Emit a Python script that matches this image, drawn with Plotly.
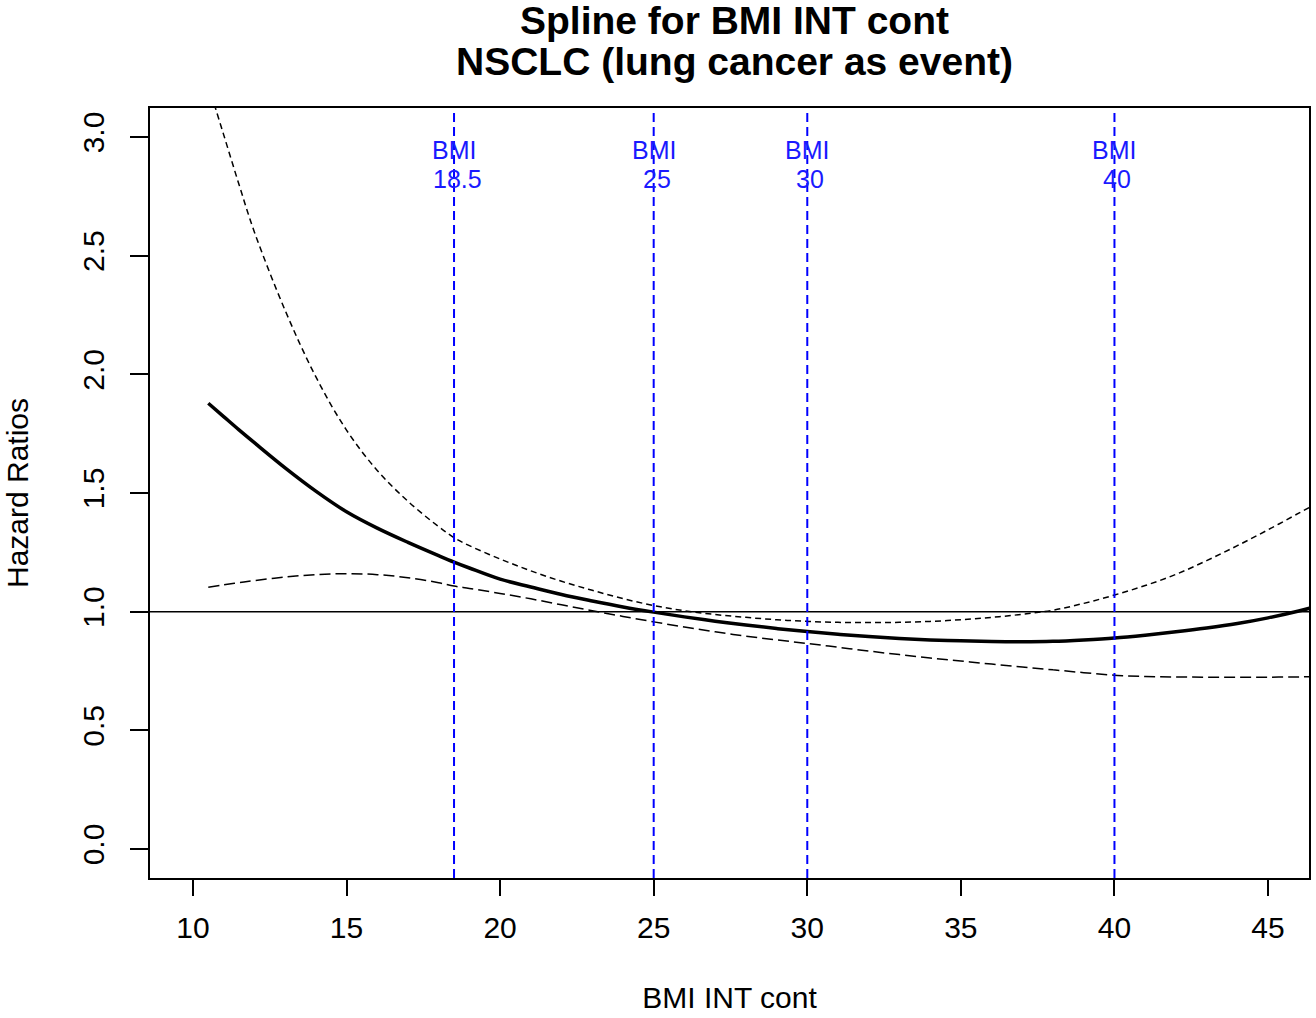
import plotly.graph_objects as go

# ---- data ----
bmi = [10.5, 11, 11.5, 12, 13, 14, 15, 16, 17, 18, 18.5, 19, 20, 21, 22, 23, 24, 25,
       26, 27, 28, 29, 30, 31, 32, 33, 34, 35, 36, 37, 38, 39, 40, 41, 42, 43, 44,
       45, 46, 46.5]
hr = [1.878, 1.822, 1.766, 1.712, 1.606, 1.508, 1.421, 1.352, 1.292, 1.236, 1.209,
      1.184, 1.137, 1.104, 1.072, 1.045, 1.020, 0.998, 0.978, 0.960, 0.944, 0.929,
      0.916, 0.905, 0.895, 0.887, 0.881, 0.877, 0.874, 0.873, 0.875, 0.881, 0.889,
      0.901, 0.915, 0.931, 0.950, 0.974, 1.003, 1.020]
hr_low = [1.103, 1.113, 1.122, 1.131, 1.146, 1.156, 1.160, 1.156, 1.143, 1.122,
          1.108, 1.098, 1.077, 1.054, 1.029, 1.004, 0.980, 0.957, 0.935, 0.915,
          0.897, 0.881, 0.866, 0.850, 0.834, 0.819, 0.805, 0.792, 0.779, 0.767,
          0.755, 0.743, 0.732, 0.727, 0.725, 0.724, 0.724, 0.724, 0.725, 0.726]
hr_up = [3.22, 3.01, 2.80, 2.60, 2.27, 1.99, 1.765, 1.595, 1.465, 1.358, 1.312,
         1.278, 1.222, 1.172, 1.128, 1.090, 1.055, 1.026, 1.004, 0.988, 0.976,
         0.966, 0.959, 0.955, 0.954, 0.955, 0.959, 0.966, 0.976, 0.989, 1.006,
         1.035, 1.070, 1.110, 1.157, 1.215, 1.278, 1.345, 1.415, 1.450]

ref_bmi = [18.5, 25, 30, 40]
ref_labels = ["18.5", "25", "30", "40"]
x_ticks = [10, 15, 20, 25, 30, 35, 40, 45]
y_ticks = [0.0, 0.5, 1.0, 1.5, 2.0, 2.5, 3.0]
y_tick_text = ["0.0", "0.5", "1.0", "1.5", "2.0", "2.5", "3.0"]
title_lines = ["Spline for BMI INT cont", "NSCLC (lung cancer as event)"]

X_RANGE = [8.6026, 46.333]
Y_RANGE = [-0.1222, 3.1222]

FONT = "Liberation Sans, Arial, sans-serif"

fig = go.Figure()

# reference line at HR = 1
fig.add_hline(y=1.0, line=dict(color="black", width=1.5))

# blue BMI reference lines
for v in ref_bmi:
    fig.add_vline(x=v, line=dict(color="#0000ff", width=2, dash="9px,5px"))

fig.add_trace(go.Scatter(x=bmi, y=hr_up, mode="lines", line_shape="spline",
                         line=dict(color="black", width=1.5, dash="6px,4px"),
                         showlegend=False, hoverinfo="skip"))
fig.add_trace(go.Scatter(x=bmi, y=hr_low, mode="lines", line_shape="spline",
                         line=dict(color="black", width=1.5, dash="11px,5px"),
                         showlegend=False, hoverinfo="skip"))
fig.add_trace(go.Scatter(x=bmi, y=hr, mode="lines", line_shape="spline",
                         line=dict(color="black", width=3.5),
                         showlegend=False, hoverinfo="skip"))

for v, lab in zip(ref_bmi, ref_labels):
    fig.add_annotation(x=v, y=2.945, text="BMI", showarrow=False,
                       font=dict(family=FONT, size=25, color="#1a1aff"),
                       xanchor="center", yanchor="middle")
    fig.add_annotation(x=v, y=2.823, text=lab, showarrow=False, xshift=3,
                       font=dict(family=FONT, size=25, color="#1a1aff"),
                       xanchor="center", yanchor="middle")

# two-line bold title
for i, line in enumerate(title_lines):
    fig.add_annotation(x=0.5, xref="paper", y=1, yref="paper",
                       yshift=88 - 41 * i, xshift=5,
                       text="<b>" + line + "</b>", showarrow=False,
                       xanchor="center", yanchor="middle",
                       font=dict(family=FONT, size=39, color="black"))

fig.update_layout(
    width=1316, height=1018,
    margin=dict(l=150, r=5, t=108, b=140),
    paper_bgcolor="white", plot_bgcolor="white",
    font=dict(family=FONT, color="black", size=30),
    showlegend=False,
)
fig.update_xaxes(range=X_RANGE, tickvals=x_ticks, ticks="outside", ticklen=16,
                 tickwidth=2, tickcolor="black", showline=True, linecolor="black",
                 linewidth=2, mirror=True, showgrid=False, zeroline=False,
                 tickfont=dict(size=30), ticklabelstandoff=6,
                 title=dict(text="BMI INT cont", font=dict(size=30), standoff=44))
fig.update_yaxes(range=Y_RANGE, tickvals=y_ticks, ticktext=y_tick_text,
                 ticks="outside", ticklen=18, tickwidth=2, tickcolor="black",
                 showline=True, linecolor="black", linewidth=2, mirror=True,
                 showgrid=False, zeroline=False, tickangle=-90,
                 tickfont=dict(size=30), ticklabelstandoff=14,
                 title=dict(text="Hazard Ratios", font=dict(size=30), standoff=40))

fig.write_html("out.html", config={"displayModeBar": False},
               post_script="document.body.style.margin='0';")
